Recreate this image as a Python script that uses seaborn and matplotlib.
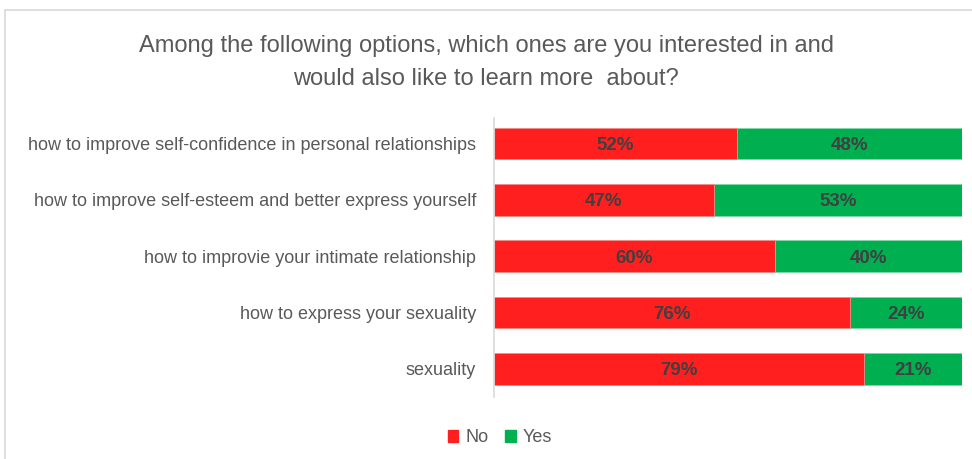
import matplotlib
matplotlib.use("Agg")
import matplotlib.pyplot as plt
from matplotlib.patches import Rectangle
import seaborn as sns
import pandas as pd

topics = [
    "how to improve self-confidence in personal relationships",
    "how to improve self-esteem and better express yourself",
    "how to improvie your intimate relationship",
    "how to express your sexuality",
    "sexuality",
]
no_pct = [52, 47, 60, 76, 79]
yes_pct = [48, 53, 40, 24, 21]

RED = "#ff1f1f"
GREEN = "#00b050"
TEXT = "#595959"
LABEL = "#404040"

sns.set_theme(style="white")
plt.rcParams["font.family"] = ["Liberation Sans", "DejaVu Sans"]

df = pd.DataFrame({"topic": topics, "No": no_pct, "Yes": yes_pct})
df["total"] = df["No"] + df["Yes"]

fig = plt.figure(figsize=(9.72, 4.59), dpi=100)
fig.patch.set_facecolor("white")
fig.patches.append(Rectangle((5 / 972, -0.1), 1.1, 1 - 10 / 459 + 0.1,
                             transform=fig.transFigure, fill=False,
                             edgecolor="#d9d9d9", linewidth=1.2))

ax = fig.add_axes([494 / 972, 1 - 397 / 459, (962 - 494) / 972, (397 - 118) / 459])

# stacked bars: the full 100% in green, "No" share in red over it
sns.barplot(data=df, x="total", y="topic", color=GREEN, width=0.56,
            orient="h", ax=ax, saturation=1, edgecolor="#7fd8a7", linewidth=0.6)
sns.barplot(data=df, x="No", y="topic", color=RED, width=0.56,
            orient="h", ax=ax, saturation=1, edgecolor="#ff8f8f", linewidth=0.6)

for i, (n, y) in enumerate(zip(no_pct, yes_pct)):
    ax.text(n / 2, i, f"{n}%", ha="center", va="center_baseline", fontsize=13.5,
            fontweight="bold", color=LABEL)
    ax.text(n + y / 2, i, f"{y}%", ha="center", va="center_baseline", fontsize=13.5,
            fontweight="bold", color=LABEL)

ax.set_xlim(0, 100)
ax.set_ylim(4.5, -0.45)
ax.set_xlabel("")
ax.set_ylabel("")
ax.set_xticks([])
ax.tick_params(axis="y", length=0, pad=13, labelsize=13, labelcolor=TEXT)
for s in ["top", "right", "bottom"]:
    ax.spines[s].set_visible(False)
ax.spines["left"].set_color("#d9d9d9")
ax.spines["left"].set_linewidth(1.2)

fig.text(0.5, 1 - 46 / 459, "Among the following options, which ones are you interested in and",
         ha="center", va="center", fontsize=17, color=TEXT)
fig.text(0.5, 1 - 79 / 459, "would also like to learn more  about?",
         ha="center", va="center", fontsize=17, color=TEXT)

handles = [Rectangle((0, 0), 1, 1, color=RED), Rectangle((0, 0), 1, 1, color=GREEN)]
fig.legend(handles, ["No", "Yes"], loc="center", bbox_to_anchor=(500 / 972, 1 - 438 / 459),
           ncol=2, frameon=False, fontsize=13, handlelength=0.6, handleheight=0.6,
           handletextpad=0.4, columnspacing=0.9, labelcolor=TEXT)

fig.savefig("out.png", dpi=100, facecolor="white")
